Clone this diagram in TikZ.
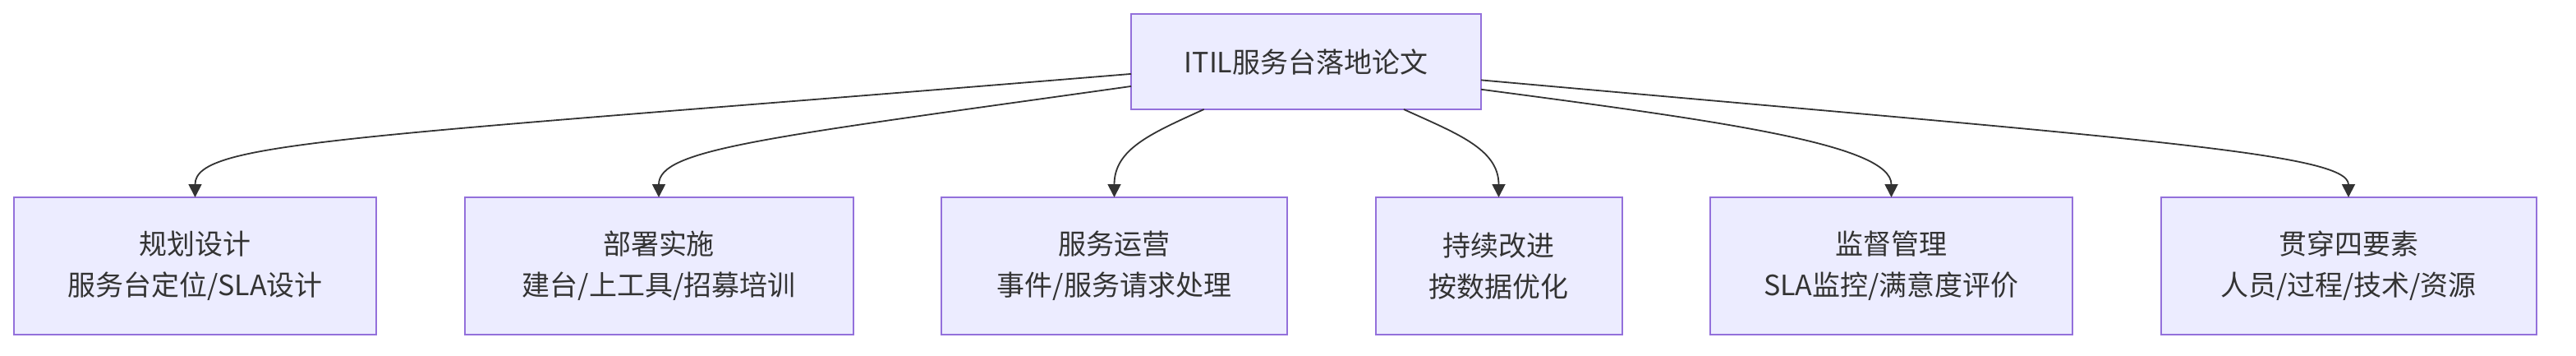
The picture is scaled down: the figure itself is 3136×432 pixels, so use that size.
\documentclass[tikz,border=0pt]{standalone}
\usepackage{fontspec}
\setmainfont{Noto Sans CJK SC}
\usepackage{xcolor}
\usepackage{tikz}
\usetikzlibrary{positioning}
\usetikzlibrary{arrows.meta}
\definecolor{boxfill}{HTML}{ECECFF}
\definecolor{boxline}{HTML}{9370DB}
\definecolor{ink}{HTML}{333333}
\tikzset{	node distance=10.75mm, 
	box/.style={ 
		rectangle,
		draw=boxline,
		line width=0.2mm,
		fill=boxfill,
		text=ink,
		align=center,
		outer sep=0pt,
		minimum height=16.7mm,
		font=\fontsize{9.67pt}{14.23pt}\selectfont},
	>={Triangle[length=1.6mm, width=1.6mm]},
	every edge/.style={  
		draw=ink,
		->,
		line width=0.18mm}
}

\begin{document}
\begin{tikzpicture}[x=0.1mm, y=0.1mm]
			\useasboundingbox (0,0) rectangle (3136,-432);
			\node[box, minimum width=42.6mm, minimum height=11.6mm] (root) at (1590,-75) {ITIL服务台落地论文};
			\node[box, minimum width=44.1mm] (c1) at (237.5,-323.5) {规划设计\\服务台定位/SLA设计};
			\node[box, minimum width=47.3mm, right=of c1] (c2) {部署实施\\建台/上工具/招募培训};
			\node[box, minimum width=42.1mm, right=of c2] (c3) {服务运营\\事件/服务请求处理};
			\node[box, minimum width=30mm, right=of c3] (c4) {持续改进\\按数据优化};
			\node[box, minimum width=44.1mm, right=of c4] (c5) {监督管理\\SLA监控/满意度评价};
			\node[box, minimum width=45.7mm, right=of c5] (c6) {贯穿四要素\\人员/过程/技术/资源};
			\draw (root.184.9) edge[out=184.7, in=90, out distance=95mm, in distance=6.9mm] (c1);
			\draw (root.188) edge[out=188, in=90, out distance=45mm, in distance=5.9mm] (c2);
			\draw (root.205.5) edge[out=204.5, in=90, out distance=7mm, in distance=5.9mm] (c3);
			\draw (root.334.5) edge[out=335.5, in=90, out distance=7mm, in distance=5.9mm] (c4);
			\draw (root.351.2) edge[out=352.5, in=90, out distance=30mm, in distance=6.4mm] (c5);
			\draw (root.354.9) edge[out=354.9, in=90, out distance=80mm, in distance=5.4mm] (c6);
		\end{tikzpicture}
\end{document}
